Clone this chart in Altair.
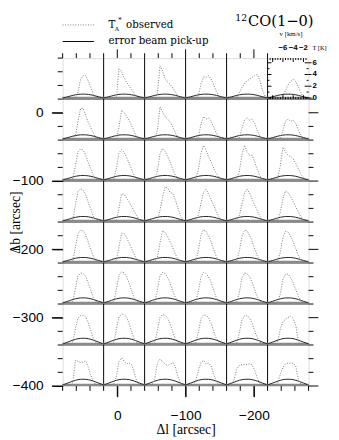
import altair as alt
import pandas as pd

# ---------------- data ----------------
VEL = [-9.0, -8.5, -8.0, -7.5, -7.0, -6.5, -6.0, -5.5, -5.0, -4.5, -4.0,
       -3.5, -3.0, -2.5, -2.0, -1.5, -1.0]                 # km/s channels
COL_LEFT = [80, 20, -40, -100, -160, -220]                 # Δl of column left edges
ROW_BOTTOM = [20, -40, -100, -160, -220, -280, -340, -400]  # Δb of row bottom edges

OBS = [
    # row 0
    [0, 0, 0, 0, 0, 0.1, 1.0, 3.2, 3.8, 3.8, 2.9, 1.8, 0.6, 0.05, 0, 0, 0],
    [0, 0, 0, 0, 0, 0.1, 5.0, 4.5, 3.4, 2.7, 2.0, 1.4, 0.7, 0.1, 0, 0, 0],
    [0, 0, 0, 0, 0, 0.8, 5.5, 4.6, 3.3, 2.7, 2.3, 1.7, 1.0, 0.3, 0, 0, 0],
    [0, 0, 0, 0, 0, 0.4, 2.4, 3.6, 3.5, 3.8, 3.2, 2.2, 1.1, 0.3, 0, 0, 0],
    [0, 0, 0, 0, 0.2, 0.9, 1.8, 2.5, 2.9, 3.2, 3.5, 3.8, 4.0, 3.0, 1.3, 0.3, 0],
    [0, 0, 0, 0, 0, 0, 0.4, 1.3, 2.2, 2.8, 3.2, 2.8, 1.9, 0.9, 0.2, 0, 0],
    # row 1
    [0, 0, 0, 0, 0, 0.5, 3.0, 5.2, 5.2, 4.0, 2.8, 1.9, 1.0, 0.1, 0, 0, 0],
    [0, 0, 0, 0, 0, 0, 2.0, 4.9, 4.5, 3.8, 3.1, 2.2, 1.2, 0.1, 0, 0, 0],
    [0, 0, 0, 0, 0, 1.5, 5.5, 4.6, 3.8, 3.4, 2.8, 2.0, 1.1, 0.1, 0, 0, 0],
    [0, 0, 0, 0, 0, 0.3, 2.5, 3.8, 3.4, 3.6, 3.0, 2.0, 1.0, 0.3, 0, 0, 0],
    [0, 0, 0, 0, 0, 0.2, 1.8, 3.2, 3.6, 3.2, 3.4, 2.6, 1.4, 0.5, 0, 0, 0],
    [0, 0, 0, 0, 0, 0.2, 1.5, 3.0, 3.4, 3.0, 3.2, 2.6, 1.5, 0.6, 0.1, 0, 0],
    # row 2
    [0, 0, 0, 0, 0.2, 2.5, 4.8, 5.3, 5.1, 4.2, 3.0, 1.8, 0.8, 0.2, 0, 0, 0],
    [0, 0, 0, 0, 0.2, 2.0, 4.6, 5.2, 4.7, 3.8, 2.8, 1.7, 0.7, 0.2, 0, 0, 0],
    [0, 0, 0, 0, 0.1, 1.5, 4.4, 5.4, 4.9, 4.0, 3.0, 1.8, 0.8, 0.2, 0, 0, 0],
    [0, 0, 0, 0, 0.2, 1.8, 4.5, 5.9, 5.0, 4.0, 3.0, 2.0, 1.1, 0.4, 0, 0, 0],
    [0, 0, 0, 0, 0.1, 1.5, 4.3, 5.9, 4.8, 4.2, 4.2, 3.0, 1.8, 0.7, 0.1, 0, 0],
    [0, 0, 0, 0, 0.3, 2.5, 5.6, 4.8, 4.2, 4.0, 3.6, 2.8, 1.9, 1.0, 0.4, 0, 0],
    # row 3
    [0, 0, 0, 0, 0.3, 2.8, 5.0, 5.5, 5.2, 4.5, 3.2, 2.0, 0.8, 0.2, 0, 0, 0],
    [0, 0, 0, 0, 0, 0.1, 2.2, 4.6, 4.5, 3.9, 3.2, 2.4, 1.6, 0.8, 0.1, 0, 0],
    [0, 0, 0, 0, 0, 0.1, 1.8, 4.0, 5.8, 5.6, 4.8, 4.7, 3.6, 2.2, 0.9, 0.1, 0],
    [0, 0, 0, 0, 0.1, 1.0, 3.0, 4.9, 5.4, 4.6, 3.6, 2.6, 1.6, 0.7, 0.1, 0, 0],
    [0, 0, 0, 0, 0.1, 0.9, 2.8, 4.8, 5.4, 4.7, 3.7, 2.7, 1.7, 0.8, 0.1, 0, 0],
    [0, 0, 0, 0, 0.2, 1.5, 3.8, 5.1, 4.8, 4.1, 3.3, 2.4, 1.5, 0.7, 0.1, 0, 0],
    # row 4
    [0, 0, 0, 0, 0.3, 2.6, 4.8, 5.4, 5.3, 4.6, 3.4, 2.1, 0.9, 0.2, 0, 0, 0],
    [0, 0, 0, 0, 0, 0.3, 2.6, 4.9, 4.8, 4.1, 3.2, 2.2, 1.2, 0.4, 0, 0, 0],
    [0, 0, 0, 0, 0.1, 0.8, 3.2, 5.4, 5.0, 4.3, 3.4, 2.4, 1.3, 0.5, 0, 0, 0],
    [0, 0, 0, 0, 0.2, 2.0, 4.5, 5.5, 5.2, 4.4, 3.4, 2.1, 0.9, 0.3, 0, 0, 0],
    [0, 0, 0, 0, 0.2, 1.9, 4.4, 5.4, 5.3, 4.5, 3.5, 2.2, 1.0, 0.3, 0, 0, 0],
    [0, 0, 0, 0, 0.2, 1.7, 4.2, 5.2, 5.1, 4.4, 3.4, 2.3, 1.1, 0.3, 0, 0, 0],
    # row 5
    [0, 0, 0, 0, 0.3, 2.5, 4.6, 5.1, 5.0, 4.5, 3.4, 2.1, 0.9, 0.2, 0, 0, 0],
    [0, 0, 0, 0, 0.3, 2.4, 4.7, 5.3, 5.1, 4.4, 3.3, 2.0, 0.8, 0.2, 0, 0, 0],
    [0, 0, 0, 0, 0.2, 2.2, 4.6, 5.2, 5.0, 4.3, 3.3, 2.0, 0.9, 0.2, 0, 0, 0],
    [0, 0, 0, 0, 0.2, 2.0, 4.4, 5.2, 5.0, 4.4, 3.4, 2.1, 0.9, 0.3, 0, 0, 0],
    [0, 0, 0, 0, 0.2, 1.8, 4.2, 5.1, 5.0, 4.4, 3.5, 2.2, 1.0, 0.3, 0, 0, 0],
    [0, 0, 0, 0, 0.2, 1.6, 4.0, 4.9, 4.9, 4.3, 3.4, 2.3, 1.1, 0.3, 0, 0, 0],
    # row 6
    [0, 0, 0, 0, 0.4, 2.6, 4.4, 4.8, 4.9, 4.6, 3.6, 2.2, 0.9, 0.2, 0, 0, 0],
    [0, 0, 0, 0, 0.3, 2.5, 4.6, 5.1, 5.0, 4.5, 3.4, 2.0, 0.8, 0.2, 0, 0, 0],
    [0, 0, 0, 0, 0.3, 2.3, 4.5, 5.0, 4.9, 4.4, 3.4, 2.0, 0.9, 0.2, 0, 0, 0],
    [0, 0, 0, 0, 0.2, 2.1, 4.3, 4.9, 4.9, 4.4, 3.5, 2.1, 0.9, 0.3, 0, 0, 0],
    [0, 0, 0, 0, 0.2, 1.9, 4.1, 4.8, 4.8, 4.4, 3.5, 2.2, 1.0, 0.3, 0, 0, 0],
    [0, 0, 0, 0, 0.5, 2.6, 3.8, 4.2, 4.5, 4.7, 4.3, 3.2, 0.4, 0, 0, 0, 0],
    # row 7
    [0, 0, 0, 0, 0.4, 4.2, 4.0, 3.8, 3.9, 4.1, 3.0, 1.6, 0.5, 0, 0, 0, 0],
    [0, 0, 0, 0, 0.2, 1.5, 4.0, 4.6, 4.0, 3.6, 3.7, 3.4, 2.0, 0.6, 0, 0, 0],
    [0, 0, 0, 0.1, 1.2, 3.8, 4.4, 4.0, 3.5, 3.3, 3.5, 3.8, 3.0, 1.4, 0.3, 0, 0],
    [0, 0, 0, 0, 0.8, 2.4, 3.8, 4.2, 3.6, 3.7, 3.2, 1.8, 0.5, 0, 0, 0, 0],
    [0, 0, 0, 1.0, 2.8, 3.3, 3.4, 3.5, 3.5, 3.6, 3.4, 2.4, 1.2, 0.2, 0, 0, 0],
    [0, 0, 0, 0, 0.4, 1.8, 3.0, 3.6, 3.7, 3.7, 3.7, 3.2, 1.0, 0.1, 0, 0, 0],
]

ERR_ROW = [
    [0, 0.09, 0.20, 0.32, 0.44, 0.53, 0.60, 0.64, 0.65, 0.64, 0.60, 0.53, 0.44, 0.32, 0.20, 0.09, 0],
    [0, 0.10, 0.22, 0.35, 0.47, 0.57, 0.65, 0.69, 0.70, 0.69, 0.65, 0.57, 0.47, 0.35, 0.22, 0.10, 0],
    [0, 0.11, 0.24, 0.37, 0.50, 0.61, 0.69, 0.74, 0.75, 0.74, 0.69, 0.61, 0.50, 0.37, 0.24, 0.11, 0],
    [0, 0.11, 0.24, 0.37, 0.50, 0.61, 0.69, 0.74, 0.75, 0.74, 0.69, 0.61, 0.50, 0.37, 0.24, 0.11, 0],
    [0, 0.11, 0.24, 0.37, 0.50, 0.61, 0.69, 0.74, 0.75, 0.74, 0.69, 0.61, 0.50, 0.37, 0.24, 0.11, 0],
    [0, 0.12, 0.27, 0.42, 0.57, 0.69, 0.78, 0.84, 0.85, 0.84, 0.78, 0.69, 0.57, 0.42, 0.27, 0.12, 0],
    [0, 0.13, 0.30, 0.47, 0.63, 0.77, 0.88, 0.94, 0.95, 0.94, 0.88, 0.77, 0.63, 0.47, 0.30, 0.13, 0],
    [0, 0.13, 0.30, 0.47, 0.63, 0.77, 0.88, 0.94, 0.95, 0.94, 0.88, 0.77, 0.63, 0.47, 0.30, 0.13, 0],
]

X_LABELS = [0, -100, -200]
Y_LABELS = [0, -100, -200, -300, -400]
X_TICKS = list(range(-280, 81, 20))
Y_TICKS = list(range(-400, 81, 20))
TOP_TICKS = list(range(-220, 81, 20))
RIGHT_TICKS = list(range(-400, 21, 20))
V_LABELS = [-6, -4, -2]
V_MINOR = [-8.5, -8, -7.5, -7, -6.5, -5.5, -5, -4.5, -3.5, -3, -2.5, -1.5]
T_LABELS = [0, 2, 4, 6]
T_MINOR = [1, 3, 5]

# panel mapping (spectrum units -> offset units)
V_LO, V_HI = -9.0, -1.0
T_LO, T_HI = -0.2, 6.8
CELL = 60.0
PX = 0.7  # pixels per arcsec


def px(v):
    return COL_LEFT[5] - (v - V_LO) / (V_HI - V_LO) * CELL


def py(t, row=0):
    return ROW_BOTTOM[row] + (t - T_LO) / (T_HI - T_LO) * CELL


def tick_len(t, major, minor):
    return (major if t % 100 == 0 else minor) / PX


rows = []
for r in range(8):
    for c in range(6):
        k = r * 6 + c
        for i, v in enumerate(VEL):
            x = COL_LEFT[c] - (v - V_LO) / (V_HI - V_LO) * CELL
            rows.append({"panel": k, "series": "obs", "x": x,
                         "y": ROW_BOTTOM[r] + (OBS[k][i] - T_LO) / (T_HI - T_LO) * CELL})
            rows.append({"panel": k, "series": "err", "x": x,
                         "y": ROW_BOTTOM[r] + (ERR_ROW[r][i] - T_LO) / (T_HI - T_LO) * CELL})
spec = pd.DataFrame(rows)

base_rows = []
for r in range(8):
    for c in range(6):
        base_rows.append({"x": COL_LEFT[c], "x2": COL_LEFT[c] - CELL,
                          "y": ROW_BOTTOM[r] + (0 - T_LO) / (T_HI - T_LO) * CELL})
baseline = pd.DataFrame(base_rows)

vlines = pd.DataFrame({"x": COL_LEFT[1:], "y": -400, "y2": 80})
hlines = pd.DataFrame({"y": ROW_BOTTOM[:-1], "x": 80, "x2": -280})

xs = alt.Scale(domain=[-280, 80], reverse=True, nice=False, zero=False)
ys = alt.Scale(domain=[-400, 80], nice=False, zero=False)

x_axis = alt.Axis(values=X_LABELS, tickSize=11, domain=False, grid=False,
                  labelOverlap=False, labelFlush=False, labelBound=False,
                  labelFont="Liberation Sans", labelFontSize=14, labelColor="black",
                  labelPadding=12, tickColor="black",
                  title="Δl [arcsec]", titleFont="Liberation Serif", titleFontSize=14,
                  titleFontWeight="normal", titleColor="black",
                  titleX=126, titleY=45, titleBaseline="middle", titleAlign="center")
y_axis = alt.Axis(values=Y_LABELS, tickSize=11, domain=False, grid=False,
                  labelOverlap=False, labelFlush=False, labelBound=False,
                  labelFont="Liberation Sans", labelFontSize=14, labelColor="black",
                  labelPadding=9, tickColor="black",
                  title="Δb [arcsec]", titleFont="Liberation Serif", titleFontSize=14,
                  titleFontWeight="normal", titleColor="black",
                  titleX=-48, titleY=168, titleAngle=-90, titleBaseline="middle",
                  titleAlign="center")

vl = alt.Chart(vlines).mark_rule(color="black", strokeWidth=1).encode(
    x=alt.X("x:Q", scale=xs, axis=x_axis), y=alt.Y("y:Q", scale=ys, axis=y_axis), y2="y2:Q")
hl = alt.Chart(hlines).mark_rule(color="black", strokeWidth=0.8).encode(
    x=alt.X("x:Q", scale=xs), x2="x2:Q", y=alt.Y("y:Q", scale=ys))
bl = alt.Chart(baseline).mark_rule(color="#8a8a8a", strokeWidth=2.4).encode(
    x=alt.X("x:Q", scale=xs), x2="x2:Q", y=alt.Y("y:Q", scale=ys))
err = alt.Chart(spec[spec.series == "err"]).mark_line(
    color="#222222", strokeWidth=1, interpolate="monotone").encode(
    x=alt.X("x:Q", scale=xs), y=alt.Y("y:Q", scale=ys), detail="panel:N")
obs = alt.Chart(spec[spec.series == "obs"]).mark_line(
    color="#777777", strokeWidth=1, strokeDash=[1, 1.6]).encode(
    x=alt.X("x:Q", scale=xs), y=alt.Y("y:Q", scale=ys), detail="panel:N")

# outer frame ticks (minor every 20", major every 100")
bot_df = pd.DataFrame({"x": X_TICKS})
bot_df["y"] = -400
bot_df["y2"] = [-400 - tick_len(t, 11, 5) for t in X_TICKS]
top_df = pd.DataFrame({"x": TOP_TICKS})
top_df["y"] = 80
top_df["y2"] = [80 + tick_len(t, 9, 5) for t in TOP_TICKS]
xt = alt.Chart(pd.concat([bot_df, top_df])).mark_rule(color="black").encode(
    x=alt.X("x:Q", scale=xs), y=alt.Y("y:Q", scale=ys), y2="y2:Q")

left_df = pd.DataFrame({"y": Y_TICKS})
left_df["x"] = 80
left_df["x2"] = [80 + tick_len(t, 11, 5) for t in Y_TICKS]
right_df = pd.DataFrame({"y": RIGHT_TICKS})
right_df["x"] = -280
right_df["x2"] = [-280 - tick_len(t, 10, 5) for t in RIGHT_TICKS]
yt = alt.Chart(pd.concat([left_df, right_df])).mark_rule(color="black").encode(
    x=alt.X("x:Q", scale=xs), x2="x2:Q", y=alt.Y("y:Q", scale=ys))

# inner axes of the top-right panel
tick_rows = []
for v in V_LABELS + [-8]:
    tick_rows.append({"x": px(v), "x2": px(v), "y": 80, "y2": 80 - 4 / PX})
    tick_rows.append({"x": px(v), "x2": px(v), "y": 20, "y2": 20 + 4 / PX})
for v in V_MINOR:
    tick_rows.append({"x": px(v), "x2": px(v), "y": 80, "y2": 80 - 2 / PX})
    tick_rows.append({"x": px(v), "x2": px(v), "y": 20, "y2": 20 + 2 / PX})
for t in T_LABELS:
    tick_rows.append({"x": -220, "x2": -220 - 4 / PX, "y": py(t), "y2": py(t)})
    tick_rows.append({"x": -280, "x2": -280 + 4 / PX, "y": py(t), "y2": py(t)})
    tick_rows.append({"x": -280, "x2": -280 - 3 / PX, "y": py(t), "y2": py(t)})
for t in T_MINOR:
    tick_rows.append({"x": -220, "x2": -220 - 2 / PX, "y": py(t), "y2": py(t)})
    tick_rows.append({"x": -280, "x2": -280 + 2 / PX, "y": py(t), "y2": py(t)})
inner_ticks = alt.Chart(pd.DataFrame(tick_rows)).mark_rule(color="black", strokeWidth=1).encode(
    x=alt.X("x:Q", scale=xs), x2="x2:Q", y=alt.Y("y:Q", scale=ys), y2="y2:Q")

vlab_df = pd.DataFrame({"x": [px(v) for v in V_LABELS],
                        "txt": ["−%d" % abs(v) for v in V_LABELS]})
vlab_df["y"] = 80
vlab = alt.Chart(vlab_df).mark_text(font="Liberation Sans", fontSize=8, fontWeight="bold",
                                    dy=-10, color="black").encode(
    x=alt.X("x:Q", scale=xs), y=alt.Y("y:Q", scale=ys), text="txt:N")
tlab_df = pd.DataFrame({"y": [py(t) for t in T_LABELS], "txt": [str(t) for t in T_LABELS]})
tlab_df["x"] = -280
tlab = alt.Chart(tlab_df).mark_text(font="Liberation Sans", fontSize=8, fontWeight="bold",
                                    align="left", dx=4, color="black").encode(
    x=alt.X("x:Q", scale=xs), y=alt.Y("y:Q", scale=ys), text="txt:N")

one = pd.DataFrame({"a": [0]})


def txt(s, x, y, size, font="DejaVu Serif", align="left", weight="normal"):
    return alt.Chart(one).mark_text(text=s, font=font, fontSize=size, align=align,
                                    baseline="middle", color="black", fontWeight=weight).encode(
        x=alt.value(x), y=alt.value(y))


unit_v = txt("v [km/s]", 234, -25, 7, font="Liberation Serif", align="center")
unit_t = txt("T [K]", 256, -10, 6.5, font="Liberation Serif")

leg_dot = alt.Chart(one).mark_rule(color="#777777", strokeDash=[1, 1.6]).encode(
    x=alt.value(0), x2=alt.value(32), y=alt.value(-34))
leg_line = alt.Chart(one).mark_rule(color="black").encode(
    x=alt.value(0), x2=alt.value(32), y=alt.value(-17))
leg_T = txt("T", 47, -34, 10.5)
leg_A = txt("A", 53.5, -30, 6)
leg_star = txt("*", 57, -39, 7)
leg_obs = txt("observed", 65, -34, 10.5)
leg_err = txt("error beam pick-up", 47, -17, 10.5)

title_main = txt("CO(1−0)", 190, -38, 15)
title_sup = txt("12", 177, -41, 9.5)

chart = alt.layer(
    vl, hl, bl, err, obs, xt, yt, inner_ticks, vlab, tlab,
    unit_v, unit_t, leg_dot, leg_line, leg_T, leg_A, leg_star, leg_obs, leg_err,
    title_main, title_sup,
).properties(
    width=252, height=336,
    autosize=alt.AutoSizeParams(type="none"),
    padding={"left": 56, "top": 46, "right": 23, "bottom": 50},
).configure_view(stroke="black", strokeWidth=1).configure(background="white")

chart.save("out.html", embed_options={"renderer": "svg", "actions": False})
